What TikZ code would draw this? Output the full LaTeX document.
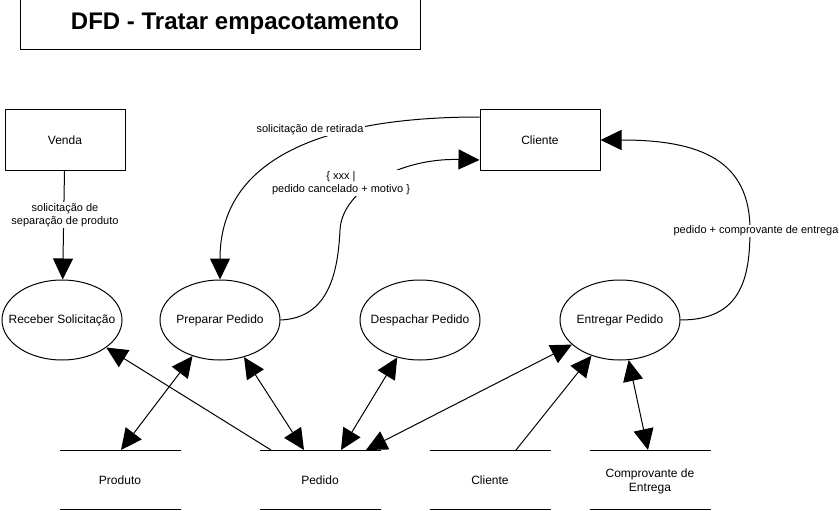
\documentclass[tikz,border=0pt]{standalone}
\usepackage{fontspec}
\setmainfont{Liberation Sans}
\usetikzlibrary{arrows.meta,shapes.geometric,calc}
\begin{document}
\begin{tikzpicture}[x=1pt,y=-1pt, line width=1pt,
  every node/.style={font=\fontsize{12}{14}\selectfont},
  proc/.style={draw, ellipse, minimum width=120pt, minimum height=80pt, inner sep=0pt},
  entity/.style={draw, rectangle, minimum width=120pt, minimum height=60pt, inner sep=0pt},
  store/.style={rectangle, minimum width=120pt, minimum height=59pt, inner sep=0pt, align=center},
  lbl/.style={fill=white, inner sep=1pt, align=center, font=\fontsize{11}{13.5}\selectfont},
  arr/.style={-{Triangle[length=21pt,width=20pt]}},
  barr/.style={{Triangle[length=21pt,width=20pt]}-{Triangle[length=21pt,width=20pt]}}
]
\fill[white] (0,0) rectangle (839,511);
\useasboundingbox (0,0) rectangle (839,511);

% title
\draw (20,-2) rectangle (420,50);
\node[font=\fontsize{24}{28}\selectfont\bfseries, anchor=base] (tt) at (235,29.5) {DFD - Tratar empacotamento};

% external entities
\node[entity] (venda) at (65,140) {Venda};
\node[entity] (cli) at (540,140) {Cliente};

% processes
\node[proc] (rec) at (62,320) {\makebox[0pt]{Receber Solicitação}};
\node[proc] (prep) at (220,320) {\makebox[0pt]{Preparar Pedido}};
\node[proc] (desp) at (420,320) {\makebox[0pt]{Despachar Pedido}};
\node[proc] (entr) at (620,320) {\makebox[0pt]{Entregar Pedido}};

% data stores
\node[store] (sprod) at (120,480) {Produto};
\node[store] (sped) at (320,480) {Pedido};
\node[store] (scli) at (490,480) {Cliente};
\node[store] (scomp) at (650,481) {Comprovante de\\Entrega};
\foreach \s/\y in {sprod/450, sped/450, scli/450, scomp/450}{
  \draw (\s.west |- 0,450) -- (\s.east |- 0,450);
  \draw (\s.west |- 0,509.5) -- (\s.east |- 0,509.5);
}

% connection points on stores
\coordinate (cprod) at (121,450);
\coordinate (pA) at (271,450);
\coordinate (pB) at (304,450);
\coordinate (pC) at (341,450);
\coordinate (pD) at (366,450);
\coordinate (ccli) at (516,450);
\coordinate (ccomp) at (648,450);

% straight flows
\draw[arr] (venda) -- (rec);
\draw[barr] (cprod) -- (prep);
\draw[arr] (pA) -- (rec);
\draw[barr] (pB) -- (prep);
\draw[barr] (pC) -- (desp);
\draw[barr] (pD) -- (entr);
\draw[arr] (ccli) -- (entr);
\draw[barr] (ccomp) -- (entr);

% curved flows
\draw[arr] ([yshift=23pt]cli.west) .. controls (320,117) and (220,160) .. (prep.north);
\draw[arr] (prep.east) .. controls (330,318) and (338,270) .. (340,230)
  .. controls (342,190) and (400,158) .. ([yshift=-20pt]cli.west);
\draw[arr] (entr.east) .. controls (740,320) and (750,280) .. (750,230)
  .. controls (750,160) and (700,140) .. (cli.east);

% labels
\node[lbl] (l1) at (65,215) {solicitação de\\separação de produto};
\node[lbl] (l2) at (310,130) {solicitação de retirada};
\node[lbl] (l3) at (341,183) {\{ xxx |\\pedido cancelado + motivo \}};
\node[lbl] (l4) at (756,231) {pedido + comprovante de entrega};
\end{tikzpicture}
\end{document}
